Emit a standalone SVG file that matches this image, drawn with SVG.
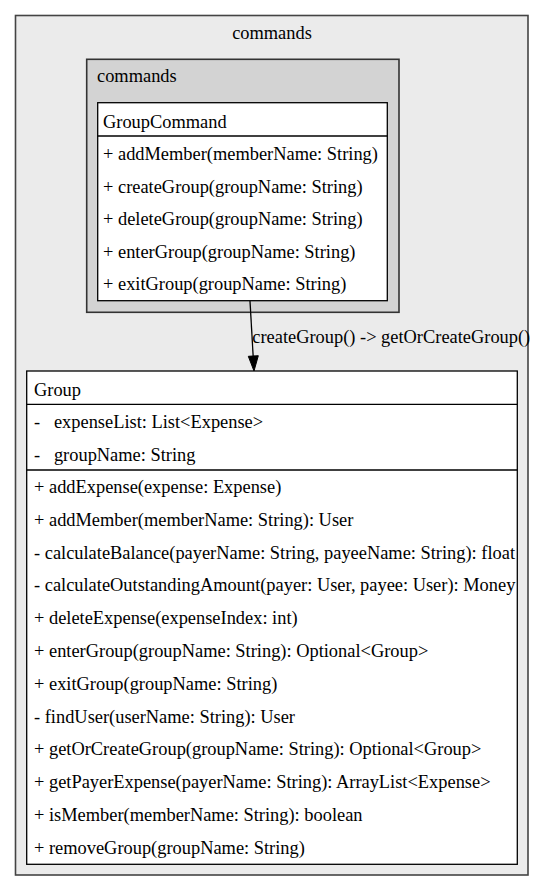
<svg xmlns="http://www.w3.org/2000/svg" width="544" height="891" viewBox="0 0 544 891">
<defs>
<style>
text{font-family:"Liberation Serif","Times New Roman",Times,serif;font-size:18.4px;fill:#000;white-space:pre}
.cl1{fill:#ebebeb;stroke:#444;stroke-width:1.6}
.cl2{fill:#d3d3d3;stroke:#333;stroke-width:1.6}
.box{fill:#fff;stroke:#000;stroke-width:1.3}
.sep{stroke:#000;stroke-width:1.3}
.edge{stroke:#000;stroke-width:1.3;fill:none}
</style>
</defs>
<rect width="544" height="891" fill="#fff"/>
<g id="cluster-outer">
<rect class="cl1" x="15.5" y="15.5" width="512.5" height="859.5"/>
<text x="272" y="39" text-anchor="middle" font-family="Liberation Serif, serif">commands</text>
</g>
<g id="cluster-inner">
<rect class="cl2" x="86.7" y="59.3" width="312.3" height="253"/>
<text x="97" y="82" font-family="Liberation Serif, serif">commands</text>
</g>
<g id="node-GroupCommand" font-family="Liberation Serif, serif">
<rect class="box" x="97.7" y="102.7" width="289.6" height="198"/>
<line class="sep" x1="97.7" y1="136" x2="387.3" y2="136"/>
<text x="103" y="127.5">GroupCommand</text>
<text x="103" y="160.3">+ addMember(memberName: String)</text>
<text x="103" y="192.8">+ createGroup(groupName: String)</text>
<text x="103" y="225.3">+ deleteGroup(groupName: String)</text>
<text x="103" y="257.8">+ enterGroup(groupName: String)</text>
<text x="103" y="290.3">+ exitGroup(groupName: String)</text>
</g>
<g id="node-Group" font-family="Liberation Serif, serif">
<rect class="box" x="26.7" y="371" width="490.6" height="493.3"/>
<line class="sep" x1="26.7" y1="404.3" x2="517.3" y2="404.3"/>
<line class="sep" x1="26.7" y1="470" x2="517.3" y2="470"/>
<text x="34" y="395.5">Group</text>
<text x="34" y="428">-   expenseList: List&lt;Expense&gt;</text>
<text x="34" y="461">-   groupName: String</text>
<text x="34" y="493">+ addExpense(expense: Expense)</text>
<text x="34" y="525.8">+ addMember(memberName: String): User</text>
<text x="34" y="558.6">- calculateBalance(payerName: String, payeeName: String): float</text>
<text x="34" y="591.3">- calculateOutstandingAmount(payer: User, payee: User): Money</text>
<text x="34" y="624.1">+ deleteExpense(expenseIndex: int)</text>
<text x="34" y="656.9">+ enterGroup(groupName: String): Optional&lt;Group&gt;</text>
<text x="34" y="689.7">+ exitGroup(groupName: String)</text>
<text x="34" y="722.5">- findUser(userName: String): User</text>
<text x="34" y="755.2">+ getOrCreateGroup(groupName: String): Optional&lt;Group&gt;</text>
<text x="34" y="788">+ getPayerExpense(payerName: String): ArrayList&lt;Expense&gt;</text>
<text x="34" y="820.8">+ isMember(memberName: String): boolean</text>
<text x="34" y="853.6">+ removeGroup(groupName: String)</text>
</g>
<g id="connectors">
<line class="edge" x1="250" y1="301" x2="253.2" y2="357"/>
<path d="M248.3,356.3 L258.3,355.7 L254,371 Z" fill="#000" stroke="#000" stroke-width="1"/>
<text x="252.3" y="343" font-family="Liberation Serif, serif">createGroup() -&gt; getOrCreateGroup()</text>
</g>
</svg>
